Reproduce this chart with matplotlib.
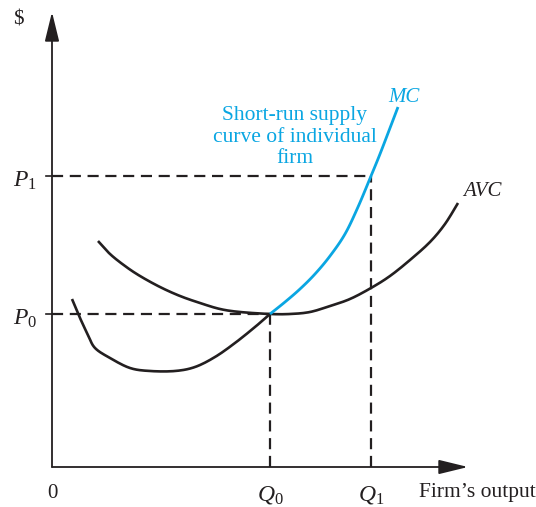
import numpy as np
import matplotlib.pyplot as plt

plt.rcParams['font.family'] = ['Liberation Serif', 'DejaVu Serif']
plt.rcParams['mathtext.fontset'] = 'custom'
plt.rcParams['mathtext.rm'] = 'Liberation Serif'
plt.rcParams['mathtext.it'] = 'Liberation Serif:italic'

BLUE = '#0aa6e2'
INK = '#231f20'

# Valores (x = producción, y = precio)
q0, q1 = 218, 319
p0, p1 = 153, 291

mc_low_x = [20, 28, 36, 43, 58, 78, 98, 123, 143, 163, 183, 203, 218]
mc_low_y = [168, 149, 132, 119, 109, 99, 96, 96, 100, 110, 124, 140, 153]

mc_supply_x = [218, 233, 248, 263, 278, 293, 306, 319, 328, 338, 346]
mc_supply_y = [153, 165, 178, 193, 211, 233, 260, 291, 313, 339, 360]

avc_x = [46, 58, 73, 88, 108, 128, 148, 168, 188, 218, 238, 258, 278, 298, 319,
         338, 358, 378, 393, 406]
avc_y = [226, 213, 201, 191, 180, 171, 164, 158, 155, 153, 153, 155, 161, 168,
         179, 191, 207, 225, 243, 264]


# Suavizado Catmull-Rom para dibujar la curva entre los puntos leídos
def smooth(xs, ys, n=12):
    pts = np.column_stack([xs, ys]).astype(float)
    pts = np.vstack([pts[0], pts, pts[-1]])
    out = []
    t = np.linspace(0, 1, n, endpoint=False)[:, None]
    for i in range(1, len(pts) - 2):
        p_0, p_1, p_2, p_3 = pts[i - 1], pts[i], pts[i + 1], pts[i + 2]
        seg = 0.5 * ((2 * p_1) + (-p_0 + p_2) * t
                     + (2 * p_0 - 5 * p_1 + 4 * p_2 - p_3) * t ** 2
                     + (-p_0 + 3 * p_1 - 3 * p_2 + p_3) * t ** 3)
        out.append(seg)
    out.append(pts[-2][None, :])
    out = np.vstack(out)
    return out[:, 0], out[:, 1]


fig = plt.figure(figsize=(5.36, 5.07), dpi=100)
ax = fig.add_axes([0, 0, 1, 1])
ax.set_xlim(-52, 484)
ax.set_ylim(-40, 467)
ax.axis('off')

# Ejes con flechas
arrow = dict(arrowstyle='-|>,head_length=0.9,head_width=0.22', color=INK, lw=1.3,
             mutation_scale=20, shrinkA=0, shrinkB=0)
ax.annotate('', xy=(0, 455), xytext=(0, 0), arrowprops=arrow)
ax.annotate('', xy=(416, 0), xytext=(0, 0), arrowprops=arrow)

# Líneas discontinuas
dash = dict(color=INK, lw=1.6, dashes=(5, 3))
ax.plot([0, q1], [p1, p1], **dash)
ax.plot([q1, q1], [0, p1], **dash)
ax.plot([0, q0], [p0, p0], **dash)
ax.plot([q0, q0], [0, p0], **dash)
ax.plot([-6, 0], [p1, p1], color=INK, lw=1.2)
ax.plot([-6, 0], [p0, p0], color=INK, lw=1.2)

# Curvas
ax.plot(*smooth(mc_low_x, mc_low_y), color=INK, lw=1.9, solid_capstyle='butt')
ax.plot(*smooth(avc_x, avc_y), color=INK, lw=1.9, solid_capstyle='butt')
ax.plot(*smooth(mc_supply_x, mc_supply_y), color=BLUE, lw=2.0, solid_capstyle='butt')

# Textos
ax.text(-34, 447, r'\$', fontsize=15, ha='center', va='center', color=INK)
ax.text(-27, p1 - 5, r'$P_1$', fontsize=17, ha='center', va='center', color=INK)
ax.text(-27, p0 - 5, r'$P_0$', fontsize=17, ha='center', va='center', color=INK)
ax.text(0, -26, '0', fontsize=15, ha='center', va='center', color=INK)
ax.text(q0, -28, r'$Q_0$', fontsize=17, ha='center', va='center', color=INK)
ax.text(q1, -28, r'$Q_1$', fontsize=17, ha='center', va='center', color=INK)
ax.text(425, -26, 'Firm’s output', fontsize=15.5, ha='center', va='center', color=INK)
ax.text(352, 370, 'MC', fontsize=15, style='italic', ha='center', va='center', color=BLUE)
ax.text(430, 276, 'AVC', fontsize=15, style='italic', ha='center', va='center', color=INK)
ax.text(243, 330, 'Short-run supply\ncurve of individual\nfirm', fontsize=15.5,
        ha='center', va='center', color=BLUE, linespacing=1.2)

fig.savefig('out.png', dpi=100)
